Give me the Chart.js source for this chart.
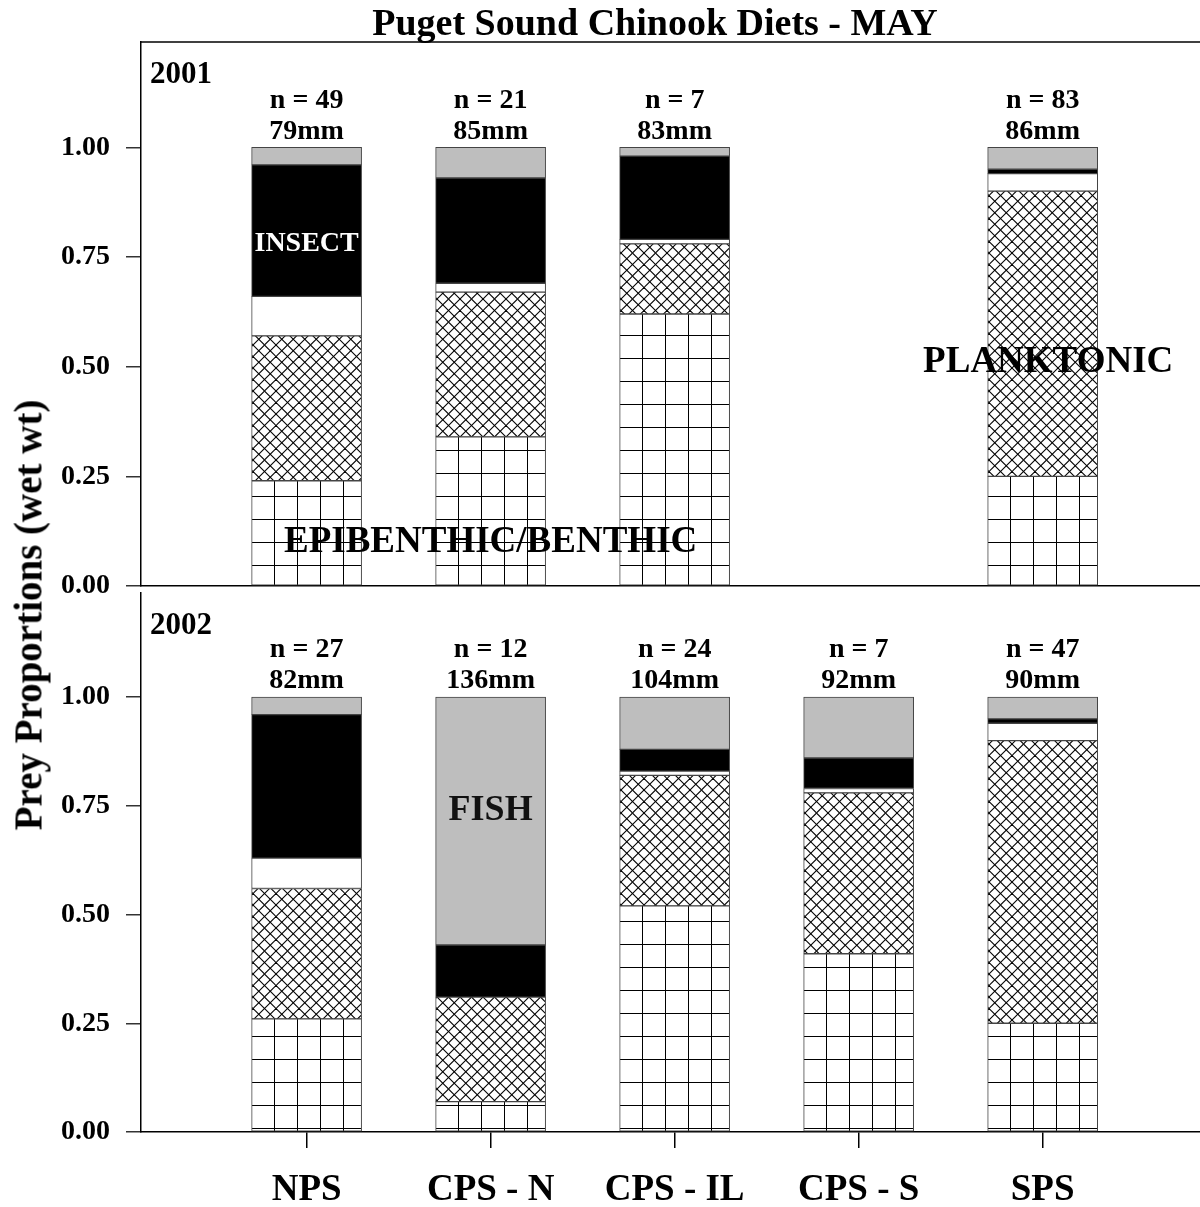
<!DOCTYPE html>
<html>
<head>
<meta charset="utf-8">
<script src="https://cdn.jsdelivr.net/npm/chart.js@4.4.0/dist/chart.umd.min.js"></script>
<style>
  body { margin: 0; background: #fff; }
  #wrap { position: relative; width: 1200px; height: 1207px; overflow: hidden; font-family: "Liberation Serif", "Times New Roman", serif; }
  #title { position: absolute; left: 0; width: 1310px; top: 0; text-align: center; font-weight: bold; font-size: 38px; line-height: 44px; }
  #ytitle { position: absolute; left: 28px; top: 615px; transform: translate(-50%, -50%) rotate(-90deg); white-space: nowrap; font-weight: bold; font-size: 39px; }
  canvas { position: absolute; left: 0; }
  #top { top: 0; }
  #bot { top: 560px; }
</style>
</head>
<body>
<div id="wrap">
  <canvas id="top" width="1200" height="620"></canvas>
  <canvas id="bot" width="1200" height="647"></canvas>
  <div id="title">Puget Sound Chinook Diets - MAY</div>
  <div id="ytitle">Prey Proportions (wet wt)</div>
</div>
<script>
const FONT = '"Liberation Serif", "Times New Roman", serif';

const categories = ['NPS', 'CPS - N', 'CPS - IL', 'CPS - S', 'SPS'];
const yTicks = [0, 0.25, 0.5, 0.75, 1.0];

// 2001 - proportions by prey group (null = no sample)
const benthic2001  = [0.24, 0.34, 0.62, null, 0.25];
const plankton2001 = [0.33, 0.33, 0.16, null, 0.65];
const other2001    = [0.09, 0.02, 0.01, null, 0.04];
const insect2001   = [0.30, 0.24, 0.19, null, 0.01];
const fish2001     = [0.04, 0.07, 0.02, null, 0.05];
const n2001  = [49, 21, 7, null, 83];
const mm2001 = [79, 85, 83, null, 86];

// 2002
const benthic2002  = [0.26, 0.07, 0.52, 0.41, 0.25];
const plankton2002 = [0.30, 0.24, 0.30, 0.37, 0.65];
const other2002    = [0.07, 0.00, 0.01, 0.01, 0.04];
const insect2002   = [0.33, 0.12, 0.05, 0.07, 0.01];
const fish2002     = [0.04, 0.57, 0.12, 0.14, 0.05];
const n2002  = [27, 12, 24, 7, 47];
const mm2002 = [82, 136, 104, 92, 90];

// group labels written inside the panels
const notes2001 = [
  { text: 'INSECT', x: 0, y: 0.78, size: 28, color: '#fff' },
  { text: 'EPIBENTHIC/BENTHIC', x: 1, y: 0.10, size: 37, color: '#000' },
  { text: 'PLANKTONIC', x: 4.03, y: 0.51, size: 37, color: '#000' }
];
const notes2002 = [
  { text: 'FISH', x: 1, y: 0.74, size: 36, color: '#111' }
];

// --- fill patterns ---
function gridPattern(ctx, ox, oy) {
  const c = document.createElement('canvas');
  c.width = 23; c.height = 23;
  const g = c.getContext('2d');
  g.fillStyle = '#fff'; g.fillRect(0, 0, 23, 23);
  g.fillStyle = '#000';
  g.fillRect(0, 0, 1, 23);
  g.fillRect(0, 0, 23, 1);
  const p = ctx.createPattern(c, 'repeat');
  p.setTransform(new DOMMatrix([1, 0, 0, 1, ox, oy]));
  return p;
}

function hatchPattern(ctx) {
  const s = 23;
  const c = document.createElement('canvas');
  c.width = s; c.height = s;
  const g = c.getContext('2d');
  g.fillStyle = '#fff'; g.fillRect(0, 0, s, s);
  g.strokeStyle = '#000'; g.lineWidth = 1.1;
  for (let k = -2; k <= 2; k++) {
    const o = k * s / 2;
    g.beginPath(); g.moveTo(o, 0); g.lineTo(o + s, s); g.stroke();
    g.beginPath(); g.moveTo(o, s); g.lineTo(o + s, 0); g.stroke();
  }
  return ctx.createPattern(c, 'repeat');
}

// --- labels drawn on top of the bars ---
const notesPlugin = {
  id: 'notes',
  afterDatasetsDraw(chart, args, opts) {
    const { ctx, chartArea } = chart;
    const x = chart.scales.x, y = chart.scales.y;
    ctx.save();
    if (opts.frameTop) {
      ctx.strokeStyle = '#000'; ctx.lineWidth = 1.5;
      ctx.beginPath();
      ctx.moveTo(chartArea.left, chartArea.top);
      ctx.lineTo(chartArea.right, chartArea.top);
      ctx.stroke();
    }
    ctx.fillStyle = '#000';
    ctx.textBaseline = 'middle';
    ctx.textAlign = 'left';
    ctx.font = `bold 31px ${FONT}`;
    ctx.fillText(opts.year, chartArea.left + 9, chartArea.top + 33);

    ctx.font = `bold 28px ${FONT}`;
    ctx.textAlign = 'center';
    opts.counts.forEach((n, i) => {
      if (n == null) return;
      const px = x.getPixelForValue(i);
      const py = y.getPixelForValue(1);
      ctx.fillText('n = ' + n, px, py - 47);
      ctx.fillText(opts.lengths[i] + 'mm', px, py - 16);
    });

    opts.notes.forEach(t => {
      ctx.font = `bold ${t.size}px ${FONT}`;
      ctx.fillStyle = t.color;
      ctx.fillText(t.text, x.getPixelForValue(t.x), y.getPixelForValue(t.y));
    });
    ctx.restore();
  }
};

function makePanel(id, year, groups, counts, lengths, notes, padTop, xHeight, showX, gridOffY) {
  const canvas = document.getElementById(id);
  const ctx = canvas.getContext('2d');
  const fills = [gridPattern(ctx, 21, gridOffY), hatchPattern(ctx), '#ffffff', '#000000', '#bebebe'];
  const names = ['Epibenthic/Benthic', 'Planktonic', 'Other', 'Insect', 'Fish'];

  return new Chart(ctx, {
    type: 'bar',
    data: {
      datasets: groups.map((vals, k) => ({
        label: names[k],
        data: vals.map((v, i) => ({ x: i, y: v })),
        backgroundColor: fills[k],
        borderColor: '#444',
        borderWidth: 1,
        borderSkipped: false,
        barThickness: 110
      }))
    },
    options: {
      responsive: false,
      animation: false,
      devicePixelRatio: 1,
      layout: { padding: { top: padTop, left: 0, right: 0, bottom: 0 } },
      plugins: {
        legend: { display: false },
        tooltip: { enabled: false },
        notes: { year, counts, lengths, notes, frameTop: id === 'top' }
      },
      scales: {
        x: {
          type: 'linear', min: -0.9, max: 4.855, stacked: true, offset: false,
          afterBuildTicks: s => { s.ticks = categories.map((c, i) => ({ value: i })); },
          afterFit: s => { s.height = xHeight; },
          grid: { display: showX, offset: false, drawOnChartArea: false, tickLength: 16, color: '#000', lineWidth: 1.5 },
          border: { display: true, color: '#000', width: 1.5 },
          ticks: {
            display: showX, autoSkip: false, maxRotation: 0, padding: 20, color: '#000',
            font: { family: FONT, size: 37, weight: 'bold' },
            callback: v => categories[v]
          }
        },
        y: {
          min: 0, max: 1.24, stacked: true,
          afterBuildTicks: s => { s.ticks = yTicks.map(v => ({ value: v })); },
          afterFit: s => { s.width = 141; },
          grid: { drawOnChartArea: false, tickLength: 15, color: '#333', lineWidth: 1.5 },
          border: { display: true, color: '#000', width: 1.5 },
          ticks: {
            padding: 16, color: '#000',
            font: { family: FONT, size: 28, weight: 'bold' },
            callback: v => Number(v).toFixed(2)
          }
        }
      }
    },
    plugins: [notesPlugin]
  });
}

makePanel('top', '2001',
  [benthic2001, plankton2001, other2001, insect2001, fish2001],
  n2001, mm2001, notes2001, 42, 34, false, 13);
makePanel('bot', '2002',
  [benthic2002, plankton2002, other2002, insect2002, fish2002],
  n2002, mm2002, notes2002, 26, 75, true, 16);
</script>
</body>
</html>
